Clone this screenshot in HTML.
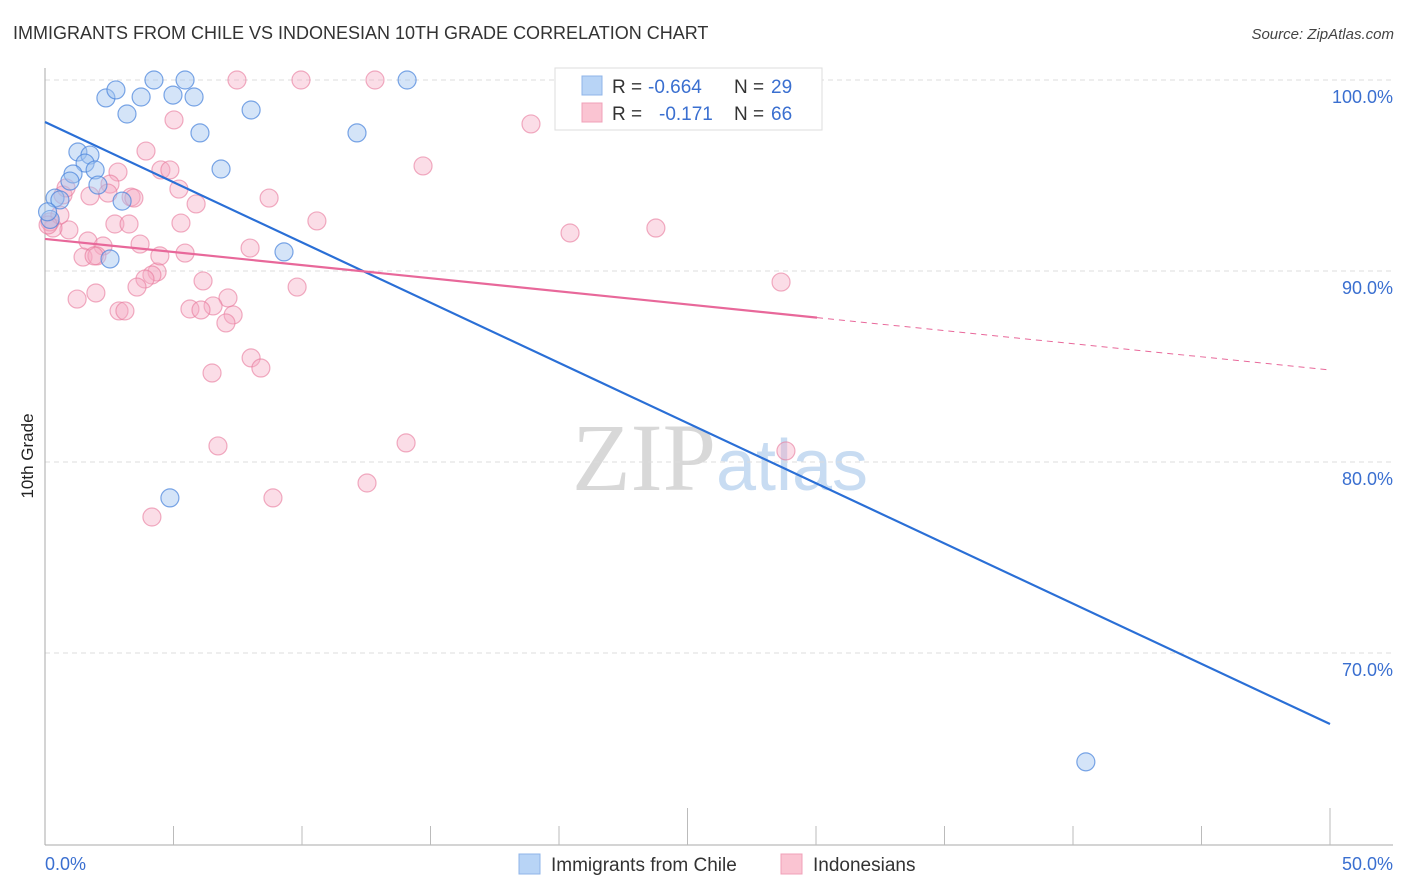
<!DOCTYPE html>
<html><head><meta charset="utf-8"><style>
body{margin:0;background:#fff;font-family:"Liberation Sans",sans-serif;}
svg{display:block}
</style></head><body>
<svg id="chart" width="1406" height="892" xmlns="http://www.w3.org/2000/svg">
<text x="13" y="39" font-size="18" fill="#333">IMMIGRANTS FROM CHILE VS INDONESIAN 10TH GRADE CORRELATION CHART</text>
<text x="1394" y="39" font-size="15" fill="#444" text-anchor="end" font-style="italic">Source: ZipAtlas.com</text>
<text x="720" y="490" font-size="96" fill="#ddd" text-anchor="middle" font-family="Liberation Serif"><tspan fill="#d8d8d8">ZIP</tspan><tspan fill="#c8dcf2" font-family="Liberation Sans" font-size="72">atlas</tspan></text>
<text transform="translate(33,456) rotate(-90)" font-size="17" fill="#222" text-anchor="middle">10th Grade</text>
<g id="grid"></g><g id="axes"></g><g id="pts"></g><g id="trends"></g>
<g>
<rect x="555" y="68" width="267" height="62" fill="#fff" stroke="#ddd"/>
<rect x="582" y="76" width="20" height="19" fill="#b8d4f6" stroke="#8fb4e8"/>
<rect x="582" y="103" width="20" height="19" fill="#fac4d2" stroke="#f0a0b8"/>
<text x="612" y="93" font-size="19" fill="#333">R =</text>
<text x="648" y="93" font-size="19" fill="#3a6fd0">-0.664</text>
<text x="734" y="93" font-size="19" fill="#333">N =</text>
<text x="771" y="93" font-size="19" fill="#3a6fd0">29</text>
<text x="612" y="120" font-size="19" fill="#333">R =</text>
<text x="659" y="120" font-size="19" fill="#3a6fd0">-0.171</text>
<text x="734" y="120" font-size="19" fill="#333">N =</text>
<text x="771" y="120" font-size="19" fill="#3a6fd0">66</text>
</g>
<g>
<rect x="519" y="854" width="21" height="20" fill="#b8d4f6" stroke="#8fb4e8"/>
<text x="551" y="871" font-size="19" fill="#333">Immigrants from Chile</text>
<rect x="781" y="854" width="21" height="20" fill="#fac4d2" stroke="#f0a0b8"/>
<text x="813" y="871" font-size="19" fill="#333">Indonesians</text>
</g>
</svg>
<script>
const blueX=[2.37,2.76,3.19,3.74,4.24,4.98,5.45,5.80,6.03,8.02,6.85,14.09,12.14,9.30,1.28,1.75,1.56,1.95,1.09,0.97,2.06,3.0,0.39,0.58,2.53,4.86,40.5,0.2,0.1];
const blueY=[99.06,99.48,98.22,99.11,100,99.21,100,99.11,97.23,98.43,95.34,100,97.23,91.0,96.23,96.07,95.65,95.29,95.08,94.71,94.5,93.66,93.82,93.72,90.63,78.12,64.3,92.7,93.1];
const pinkX=[7.47,9.96,12.84,5.02,18.91,3.93,4.51,4.86,2.84,14.71,5.21,2.53,3.35,5.88,8.72,10.58,5.29,2.72,3.27,0.93,1.67,2.26,3.70,7.98,5.45,1.48,2.02,20.43,23.77,28.64,6.15,4.36,4.16,3.89,3.58,7.12,9.81,1.98,1.25,6.54,5.64,6.07,7.32,7.04,2.88,3.11,8.02,8.40,6.50,6.73,14.05,8.87,12.53,4.16,28.83,0.70,1.75,0.31,0.19,2.45,0.82,4.47,1.91,3.46,0.58,0.12];
const pinkY=[100,100,100,97.91,97.70,96.28,95.29,95.29,95.18,95.50,94.29,94.55,93.87,93.51,93.82,92.62,92.51,92.46,92.46,92.15,91.57,91.31,91.41,91.20,90.94,90.73,90.79,91.99,92.25,89.42,89.48,89.95,89.79,89.58,89.16,88.59,89.16,88.85,88.53,88.17,88.01,87.96,87.70,87.28,87.91,87.91,85.45,84.92,84.66,80.84,81.0,78.12,78.9,77.12,80.58,93.98,93.93,92.25,92.57,94.08,94.35,90.79,90.79,93.82,92.93,92.41];
const blueTrend=[97.8,66.28];
const pinkTrend=[91.68,84.82];
const pinkSolidEnd=30.04;
const yTicks=[100,90,80,70];
const xTicks=[0,5,10,15,20,25,30,35,40,45,50];
const NS="http://www.w3.org/2000/svg";
const xs=v=>45+v*25.7, ys=v=>80+(100-v)*19.1;
function mk(tag,attrs,parent){const e=document.createElementNS(NS,tag);for(const k in attrs)e.setAttribute(k,attrs[k]);document.getElementById(parent).appendChild(e);return e;}
yTicks.forEach(t=>{
 const l=mk('line',{x1:45,x2:1393,y1:ys(t),y2:ys(t),stroke:'#ddd','stroke-dasharray':'5,4'},'grid');
 
 
 const tx=mk('text',{x:1393,y:ys(t)+23,'font-size':18,fill:'#3a6fd0','text-anchor':'end'},'grid');
 tx.textContent=t.toFixed(1)+'%';
 
 
});
let a=mk('line',{x1:45,x2:45,y1:68,y2:845,stroke:'#aaa'},'axes');


a=mk('line',{x1:45,x2:1393,y1:845,y2:845,stroke:'#aaa'},'axes');


xTicks.forEach((t,i)=>{
 if(i===0) return;
 const l=mk('line',{x1:xs(t),x2:xs(t),y1:(i%5==0)?808:826,y2:845,stroke:'#bbb'},'axes');
 
 
});
[[0,'start',45],[50,'end',1393]].forEach(([t,an,x])=>{
 const tx=mk('text',{x:x,y:870,'font-size':18,fill:'#3a6fd0','text-anchor':an},'axes');
 tx.textContent=t.toFixed(1)+'%';
 
 
});
pinkX.forEach((x,i)=>{
 const c=mk('circle',{cx:xs(x),cy:ys(pinkY[i]),r:9,fill:'rgba(246,170,194,0.4)',stroke:'rgba(232,120,155,0.6)','stroke-width':1.2},'pts');
 
 
});
blueX.forEach((x,i)=>{
 const c=mk('circle',{cx:xs(x),cy:ys(blueY[i]),r:9,fill:'rgba(160,196,240,0.45)',stroke:'rgba(70,130,220,0.7)','stroke-width':1.2},'pts');
 
 
});
const pv=x=>pinkTrend[0]+(pinkTrend[1]-pinkTrend[0])*x/50;
let t=mk('line',{x1:xs(0),y1:ys(blueTrend[0]),x2:xs(50),y2:ys(blueTrend[1]),stroke:'#2a6fd6','stroke-width':2.2},'trends');


t=mk('line',{x1:xs(0),y1:ys(pv(0)),x2:xs(pinkSolidEnd),y2:ys(pv(pinkSolidEnd)),stroke:'#e8689a','stroke-width':2.2},'trends');


t=mk('line',{x1:xs(pinkSolidEnd),y1:ys(pv(pinkSolidEnd)),x2:xs(50),y2:ys(pv(50)),stroke:'#e8689a','stroke-width':1,'stroke-dasharray':'6,5'},'trends');


</script>
</body></html>
